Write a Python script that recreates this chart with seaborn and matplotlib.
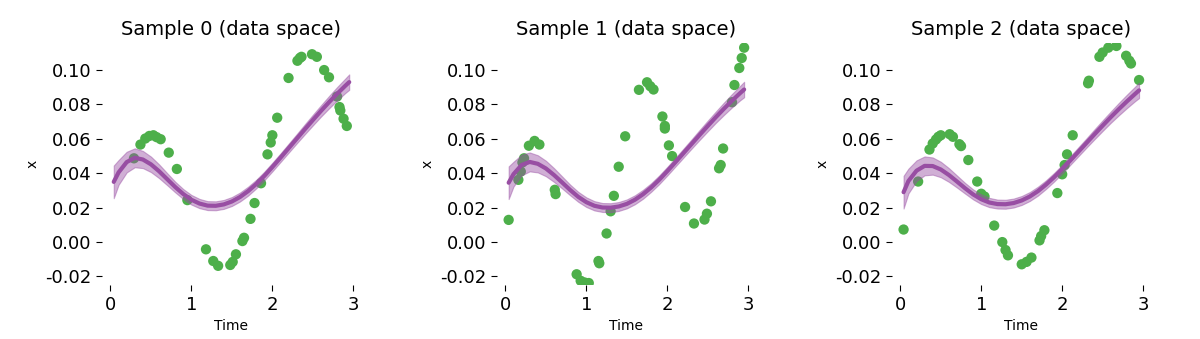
import numpy as np
import pandas as pd
import matplotlib
matplotlib.use("Agg")
import matplotlib.pyplot as plt
import seaborn as sns

# ---------------- data ----------------
titles = ["Sample 0 (data space)", "Sample 1 (data space)", "Sample 2 (data space)"]

curve_t = [0.04, 0.1, 0.2, 0.3, 0.4, 0.5, 0.6, 0.7, 0.8, 0.9, 1.0, 1.1, 1.2, 1.3, 1.4,
           1.5, 1.6, 1.7, 1.8, 1.9, 2.0, 2.1, 2.2, 2.3, 2.4, 2.5, 2.6, 2.7, 2.8, 2.9, 2.95]

mean0 = [0.0350, 0.0405, 0.0465, 0.0490, 0.0480, 0.0452, 0.0412, 0.0366, 0.0320, 0.0279,
         0.0246, 0.0224, 0.0212, 0.0211, 0.0219, 0.0236, 0.0262, 0.0296, 0.0337, 0.0384,
         0.0436, 0.0490, 0.0545, 0.0600, 0.0655, 0.0709, 0.0762, 0.0813, 0.0862, 0.0908,
         0.0930]
mean1 = [0.0345, 0.0395, 0.0448, 0.0466, 0.0455, 0.0428, 0.0390, 0.0347, 0.0303, 0.0263,
         0.0232, 0.0211, 0.0201, 0.0200, 0.0207, 0.0222, 0.0246, 0.0278, 0.0317, 0.0362,
         0.0412, 0.0464, 0.0517, 0.0570, 0.0623, 0.0675, 0.0726, 0.0775, 0.0822, 0.0866,
         0.0887]
mean2 = [0.0290, 0.0355, 0.0415, 0.0443, 0.0442, 0.0422, 0.0390, 0.0352, 0.0313, 0.0277,
         0.0249, 0.0230, 0.0221, 0.0220, 0.0227, 0.0242, 0.0265, 0.0296, 0.0334, 0.0377,
         0.0424, 0.0474, 0.0525, 0.0576, 0.0627, 0.0677, 0.0726, 0.0773, 0.0818, 0.0861,
         0.0882]

halfwidth = [0.0095, 0.0072, 0.0060, 0.0055, 0.0050, 0.0045, 0.0040, 0.0035, 0.0031, 0.0029,
             0.0028, 0.0027, 0.0026, 0.0026, 0.0026, 0.0026, 0.0026, 0.0026, 0.0025,
             0.0025, 0.0025, 0.0025, 0.0026, 0.0027, 0.0029, 0.0031, 0.0033, 0.0036,
             0.0039, 0.0042, 0.0045]

obs_t0 = [0.29, 0.37, 0.43, 0.48, 0.53, 0.57, 0.62, 0.72, 0.82, 0.95, 1.18, 1.27, 1.33,
          1.48, 1.51, 1.55, 1.63, 1.65, 1.73, 1.78, 1.86, 1.94, 1.98, 2.00, 2.06, 2.20,
          2.31, 2.34, 2.36, 2.49, 2.55, 2.64, 2.70, 2.80, 2.83, 2.84, 2.88, 2.92]
obs_x0 = [0.0487, 0.0567, 0.0602, 0.0617, 0.0621, 0.0610, 0.0598, 0.0520, 0.0425, 0.0244,
          -0.0042, -0.0110, -0.0138, -0.0133, -0.0115, -0.0071, 0.0006, 0.0025, 0.0135,
          0.0227, 0.0342, 0.0510, 0.0579, 0.0621, 0.0723, 0.0954, 0.1054, 0.1070, 0.1077,
          0.1092, 0.1077, 0.1000, 0.0958, 0.0846, 0.0785, 0.0765, 0.0717, 0.0675]

obs_t1 = [0.04, 0.16, 0.19, 0.21, 0.23, 0.29, 0.36, 0.42, 0.61, 0.62, 0.88, 0.93, 0.98,
          1.03, 1.15, 1.16, 1.25, 1.30, 1.34, 1.40, 1.48, 1.65, 1.75, 1.79, 1.83, 1.94,
          1.97, 1.97, 2.02, 2.06, 2.22, 2.33, 2.46, 2.49, 2.54, 2.64, 2.66, 2.69, 2.80,
          2.83, 2.89, 2.92, 2.95]
obs_x1 = [0.0129, 0.0362, 0.0410, 0.0463, 0.0487, 0.0560, 0.0588, 0.0567, 0.0304, 0.0279,
          -0.0187, -0.0225, -0.0235, -0.0238, -0.0110, -0.0123, 0.0050, 0.0179, 0.0269,
          0.0438, 0.0615, 0.0885, 0.0929, 0.0906, 0.0887, 0.0730, 0.0675, 0.0660, 0.0562,
          0.0500, 0.0204, 0.0108, 0.0131, 0.0165, 0.0237, 0.0429, 0.0448, 0.0544, 0.0813,
          0.0913, 0.1012, 0.1070, 0.1130]

obs_t2 = [0.04, 0.22, 0.36, 0.40, 0.44, 0.47, 0.50, 0.61, 0.65, 0.73, 0.75, 0.84, 0.95,
          1.00, 1.04, 1.16, 1.26, 1.30, 1.33, 1.50, 1.56, 1.62, 1.72, 1.74, 1.78, 1.94,
          2.00, 2.03, 2.06, 2.13, 2.32, 2.33, 2.46, 2.50, 2.57, 2.67, 2.79, 2.83, 2.85, 2.95]
obs_x2 = [0.0073, 0.0352, 0.0538, 0.0573, 0.0596, 0.0612, 0.0621, 0.0627, 0.0612, 0.0569,
          0.0558, 0.0477, 0.0352, 0.0281, 0.0265, 0.0096, 0.0000, -0.0046, -0.0077,
          -0.0129, -0.0115, -0.0090, 0.0010, 0.0035, 0.0069, 0.0285, 0.0394, 0.0448,
          0.0510, 0.0621, 0.0923, 0.0938, 0.1077, 0.1102, 0.1130, 0.1140, 0.1083, 0.1054,
          0.1038, 0.0942]

means = [mean0, mean1, mean2]
obs_t = [obs_t0, obs_t1, obs_t2]
obs_x = [obs_x0, obs_x1, obs_x2]

xticks = [0, 1, 2, 3]
yticks = [-0.02, 0.00, 0.02, 0.04, 0.06, 0.08, 0.10]

GREEN = "#4daf4a"
PURPLE = "#984ea3"

# ---------------- plot ----------------
sns.set_style("ticks")
plt.rcParams['font.family'] = ['DejaVu Sans']
plt.rcParams.update({"text.color": "black", "axes.labelcolor": "black",
                     "xtick.color": "black", "ytick.color": "black"})

fig, axes = plt.subplots(1, 3, figsize=(12, 3.39), dpi=100)
fig.subplots_adjust(left=0.085, right=0.959, top=0.872, bottom=0.159, wspace=0.525)

for i, ax in enumerate(axes):
    obs = pd.DataFrame({"Time": obs_t[i], "x": obs_x[i]})
    cur = pd.DataFrame({"Time": curve_t, "x": means[i]})
    lo = np.array(means[i]) - np.array(halfwidth)
    hi = np.array(means[i]) + np.array(halfwidth)

    sns.scatterplot(data=obs, x="Time", y="x", ax=ax, color=GREEN, s=55,
                    edgecolor="none", zorder=2)
    ax.fill_between(curve_t, lo, hi, color=PURPLE, alpha=0.45, linewidth=0.8,
                    edgecolor=PURPLE, zorder=3)
    sns.lineplot(data=cur, x="Time", y="x", ax=ax, color=PURPLE, lw=3, zorder=4)

    ax.set_xlim(-0.105, 3.095)
    ax.set_ylim(-0.025, 0.1155)
    ax.set_xticks(xticks)
    ax.set_yticks(yticks)
    ax.set_xticklabels([str(v) for v in xticks])
    ax.set_yticklabels([f"{v:.2f}" for v in yticks])
    ax.tick_params(labelsize=13, length=4, color="black", labelcolor="black")
    ax.set_xlabel("Time", fontsize=10, color="black")
    ax.set_ylabel("x", fontsize=10, color="black")
    ax.set_title(titles[i], fontsize=14, color="black")
    sns.despine(ax=ax, left=True, bottom=True)

fig.savefig("out.png", dpi=100)
